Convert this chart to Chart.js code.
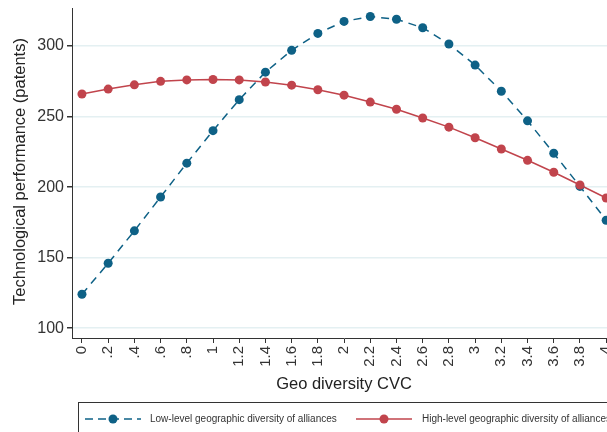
<!DOCTYPE html>
<html>
<head>
<meta charset="utf-8">
<script src="https://cdn.jsdelivr.net/npm/chart.js@4"></script>
<style>
	html, body { margin: 0; padding: 0; background: #fff; overflow: hidden; }
	#wrap { width: 640px; height: 432px; }
</style>
</head>
<body>
<div id="wrap"><canvas id="js-geo-chart" width="640" height="432"></canvas></div>
<script>
const xValues = [0, 0.2, 0.4, 0.6, 0.8, 1, 1.2, 1.4, 1.6, 1.8, 2, 2.2, 2.4, 2.6, 2.8, 3, 3.2, 3.4, 3.6, 3.8, 4];
const xTickLabels = ['0', '.2', '.4', '.6', '.8', '1', '1.2', '1.4', '1.6', '1.8', '2', '2.2', '2.4', '2.6', '2.8', '3', '3.2', '3.4', '3.6', '3.8', '4'];
const lowLevel = [124, 146, 169, 193, 217, 240, 262, 281.5, 297, 309, 317.5, 321, 319, 313, 301.5, 286.5, 268, 247, 224, 200.5, 176.5];
const highLevel = [266, 269.5, 272.5, 275, 276, 276.3, 276, 274.5, 272.3, 269, 265.2, 260.3, 255.2, 249, 242.5, 235, 227, 219, 210.5, 201.5, 192.3];
const yTicks = [100, 150, 200, 250, 300];
const seriesNames = ['Low-level geographic diversity of alliances', 'High-level geographic diversity of alliances'];
const xTitle = 'Geo diversity CVC';
const yTitle = 'Technological performance (patents)';

const blue = '#0e6186';
const red = '#c1444c';
const font = '"Liberation Sans", Arial, sans-serif';

// titles + boxed legend, drawn the way the original figure lays them out
const extras = {
	id: 'extras',
	afterDraw(chart) {
		const c = chart.ctx;
		const area = chart.chartArea;
		c.save();
		c.fillStyle = '#222';
		c.font = '16.5px ' + font;
		c.textAlign = 'center';
		c.textBaseline = 'middle';
		c.fillText(xTitle, (area.left + area.right) / 2, 384);
		c.translate(20, 171.5);
		c.rotate(-Math.PI / 2);
		c.fillText(yTitle, 0, 0);
		c.restore();

		c.save();
		c.strokeStyle = '#333';
		c.lineWidth = 1;
		c.strokeRect(78.5, 402.5, 534, 40);
		const rowY = 419;
		const items = [
			{ x0: 85, x1: 141, mx: 113, tx: 150, color: blue, dash: [8, 5], label: seriesNames[0] },
			{ x0: 356, x1: 412, mx: 384, tx: 422, color: red, dash: [], label: seriesNames[1] },
		];
		items.forEach((it) => {
			c.strokeStyle = it.color;
			c.lineWidth = 1.5;
			c.setLineDash(it.dash);
			c.beginPath();
			c.moveTo(it.x0, rowY);
			c.lineTo(it.x1, rowY);
			c.stroke();
			c.setLineDash([]);
			c.fillStyle = it.color;
			c.beginPath();
			c.arc(it.mx, rowY, 4.5, 0, Math.PI * 2);
			c.fill();
			c.fillStyle = '#333';
			c.font = '10px ' + font;
			c.textAlign = 'left';
			c.textBaseline = 'middle';
			c.fillText(it.label, it.tx, rowY);
		});
		c.restore();
	},
};

const ctx = document.getElementById('js-geo-chart');
const geoChart = new Chart(ctx, {
	type: 'line',
	data: {
		datasets: [
			{
				label: seriesNames[0],
				data: xValues.map((x, i) => ({ x: x, y: lowLevel[i] })),
				borderColor: blue,
				backgroundColor: blue,
				borderWidth: 1.5,
				borderDash: [8, 6],
				pointRadius: 4.5,
				pointBorderWidth: 0,
				tension: 0,
				order: 1,
			},
			{
				label: seriesNames[1],
				data: xValues.map((x, i) => ({ x: x, y: highLevel[i] })),
				borderColor: red,
				backgroundColor: red,
				borderWidth: 1.5,
				pointRadius: 4.5,
				pointBorderWidth: 0,
				tension: 0,
				order: 0,
			},
		],
	},
	options: {
		responsive: false,
		animation: false,
		layout: { padding: { top: 8, right: 24, left: 0, bottom: 0 } },
		plugins: {
			legend: { display: false },
			tooltip: { enabled: false },
		},
		scales: {
			x: {
				type: 'linear',
				min: -0.076,
				max: 4.075,
				afterBuildTicks: (scale) => {
					scale.ticks = xValues.map((v) => ({ value: v }));
				},
				afterFit: (scale) => {
					scale.height = 94;
					scale.paddingLeft = 0;
					scale.paddingRight = 0;
				},
				ticks: {
					autoSkip: false,
					minRotation: 90,
					maxRotation: 90,
					padding: 3,
					color: '#333',
					font: { family: font, size: 15 },
					callback: (v) => {
						const i = xValues.findIndex((x) => Math.abs(x - v) < 1e-6);
						return i >= 0 ? xTickLabels[i] : '';
					},
				},
				grid: {
					drawOnChartArea: false,
					drawTicks: true,
					tickLength: 5,
					tickColor: '#333',
				},
				border: { display: true, color: '#333', width: 1 },
			},
			y: {
				min: 93,
				max: 327,
				afterBuildTicks: (scale) => {
					scale.ticks = yTicks.map((v) => ({ value: v }));
				},
				afterFit: (scale) => {
					scale.width = 72;
					scale.paddingTop = 0;
					scale.paddingBottom = 0;
				},
				ticks: {
					padding: 3,
					color: '#333',
					font: { family: font, size: 16 },
				},
				grid: {
					color: '#e4f0f2',
					lineWidth: 1.5,
					tickLength: 5,
					tickColor: '#333',
				},
				border: { display: true, color: '#333', width: 1 },
			},
		},
	},
	plugins: [extras],
});
</script>
</body>
</html>
